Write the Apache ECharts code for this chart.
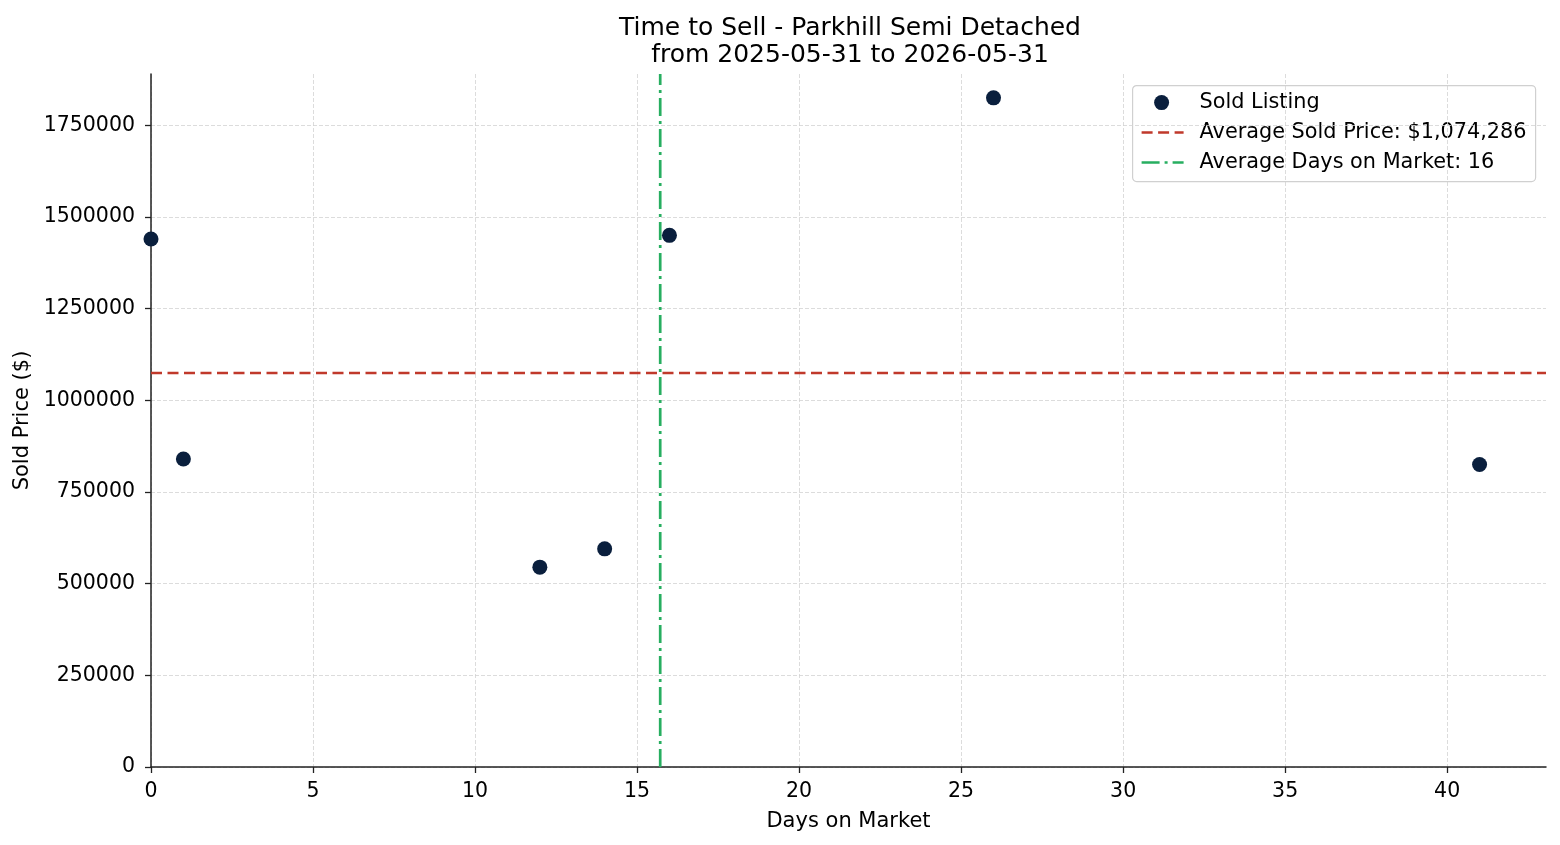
<!DOCTYPE html>
<html>
<head>
<meta charset="utf-8">
<script src="https://cdn.jsdelivr.net/npm/echarts@6/dist/echarts.min.js"></script>
<style>
  html, body { margin: 0; padding: 0; background: #fff; }
  #chart { width: 1560px; height: 845px; }
</style>
</head>
<body>
<div id="chart"></div>
<script>
// days on market and sold price of each listing
const daysOnMarket = [0, 1, 12, 14, 16, 26, 41]
const soldPrice = [1440000, 840000, 545000, 595000, 1450000, 1825000, 825000]
const yTicks = [0, 250000, 500000, 750000, 1000000, 1250000, 1500000, 1750000]
const xTicks = [0, 5, 10, 15, 20, 25, 30, 35, 40]

const xMax = 43.05
const yMax = 1890000

const avgPrice = soldPrice.reduce((a, b) => a + b, 0) / soldPrice.length
const avgDays = daysOnMarket.reduce((a, b) => a + b, 0) / daysOnMarket.length

const font = 'DejaVu Sans'
const pointColor = '#0a1f3d'
const red = '#c0392b'
const green = '#27ae60'
const legendFont = '20.8px "DejaVu Sans"'

const chart = echarts.init(document.getElementById('chart'))

const option = {
  animation: false,
  textStyle: { fontFamily: font },
  title: {
    text: 'Time to Sell - Parkhill Semi Detached\nfrom 2025-05-31 to 2026-05-31',
    left: 845,
    top: 10,
    textAlign: 'center',
    textStyle: { fontSize: 25, fontWeight: 'normal', color: '#000', lineHeight: 27, fontFamily: font }
  },
  grid: { left: 151, right: 14, top: 74, bottom: 78, outerBoundsMode: 'none', containLabel: false },
  xAxis: {
    type: 'value',
    min: 0,
    max: xMax,
    interval: 5,
    name: 'Days on Market',
    nameLocation: 'middle',
    nameGap: 44,
    nameTextStyle: { fontSize: 21, color: '#000', fontFamily: font },
    axisLine: { onZero: false, lineStyle: { color: '#222', width: 1.5 } },
    axisTick: { show: true, length: 6, customValues: xTicks, lineStyle: { color: '#222', width: 1.3 } },
    axisLabel: {
      fontSize: 20.5, color: '#000', margin: 14, fontFamily: font,
      customValues: xTicks
    },
    splitLine: { show: true, lineStyle: { color: '#d3d3d3', type: [4, 2], width: 0.8 } }
  },
  yAxis: {
    type: 'value',
    min: 0,
    max: yMax,
    interval: 250000,
    name: 'Sold Price ($)',
    nameLocation: 'middle',
    nameGap: 115,
    nameTextStyle: { fontSize: 21, color: '#000', fontFamily: font },
    axisLine: { show: true, lineStyle: { color: '#222', width: 1.5 } },
    axisTick: { show: true, length: 6, customValues: yTicks, lineStyle: { color: '#222', width: 1.3 } },
    axisLabel: {
      fontSize: 20.5, color: '#000', margin: 16, fontFamily: font,
      customValues: yTicks,
      formatter: v => String(v)
    },
    splitLine: { show: true, lineStyle: { color: '#d3d3d3', type: [4, 2], width: 0.8 } }
  },
  series: [
    {
      name: 'Average Sold Price',
      type: 'line',
      symbol: 'none',
      silent: true,
      z: 3,
      lineStyle: { color: red, width: 2.5, type: [11, 5.5] },
      data: [[0, avgPrice], [xMax, avgPrice]]
    },
    {
      name: 'Average Days on Market',
      type: 'line',
      symbol: 'none',
      silent: true,
      z: 3,
      lineStyle: { color: green, width: 2.7, type: [18, 5, 3, 5] },
      data: [[avgDays, 0], [avgDays, yMax]]
    },
    {
      name: 'Sold Listing',
      type: 'scatter',
      symbolSize: 15,
      z: 4,
      itemStyle: { color: pointColor, opacity: 1 },
      data: daysOnMarket.map((d, i) => [d, soldPrice[i]])
    }
  ],
  graphic: [
    {
      type: 'group',
      left: 1132,
      top: 85,
      z: 100,
      children: [
        { type: 'rect', shape: { x: 0, y: 0, width: 403, height: 96, r: 4 },
          style: { fill: 'rgba(255,255,255,0.85)', stroke: '#d0d0d0', lineWidth: 1.2 } },
        { type: 'circle', shape: { cx: 29, cy: 17, r: 7.5 }, style: { fill: pointColor } },
        { type: 'text', x: 67, y: 17, style: { text: 'Sold Listing', font: legendFont, fill: '#000', textVerticalAlign: 'middle' } },
        { type: 'line', shape: { x1: 9, y1: 47, x2: 51, y2: 47 }, style: { stroke: red, lineWidth: 2.5, lineDash: [11, 5.5] } },
        { type: 'text', x: 67, y: 47, style: { text: 'Average Sold Price: $' + Math.round(avgPrice).toLocaleString('en-US'), font: legendFont, fill: '#000', textVerticalAlign: 'middle' } },
        { type: 'line', shape: { x1: 9, y1: 77, x2: 51, y2: 77 }, style: { stroke: green, lineWidth: 2.5, lineDash: [18, 5, 3, 5] } },
        { type: 'text', x: 67, y: 77, style: { text: 'Average Days on Market: ' + Math.round(avgDays), font: legendFont, fill: '#000', textVerticalAlign: 'middle' } }
      ]
    }
  ]
}

chart.setOption(option)
</script>
</body>
</html>
